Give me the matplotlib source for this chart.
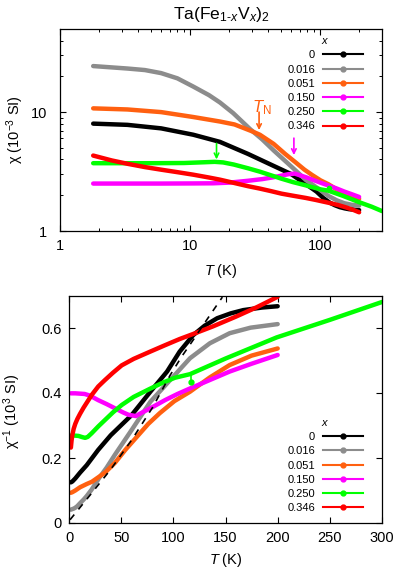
import numpy as np
import matplotlib
matplotlib.use("Agg")
import matplotlib.pyplot as plt
from matplotlib.lines import Line2D
from matplotlib import ticker

plt.rcParams['font.family'] = ['Liberation Sans', 'DejaVu Sans']
plt.rcParams['mathtext.fontset'] = 'custom'
plt.rcParams['mathtext.rm'] = 'Liberation Sans'
plt.rcParams['mathtext.it'] = 'Liberation Sans:italic'
plt.rcParams['font.size'] = 10.5

# inverse susceptibility (10^3 SI) vs temperature (K); chi = 1/inv (10^-3 SI)
labels = ["0", "0.016", "0.051", "0.150", "0.250", "0.346"]
colors = ["#000000", "#8c8c8c", "#ff6010", "#ff00ff", "#00ff00", "#ff0000"]

T_0 = [1.8, 3.3, 6, 10.6, 17, 28, 40, 60, 78, 94, 106, 119, 130, 142, 155, 167, 185, 200]
inv_0 = [0.125, 0.128, 0.137, 0.155, 0.178, 0.225, 0.27, 0.332, 0.404, 0.466, 0.527,
         0.578, 0.607, 0.63, 0.645, 0.655, 0.663, 0.667]

T_016 = [1.8, 3.3, 4.5, 6, 8, 10.6, 14, 17, 21.5, 29, 36, 44, 60, 78, 97, 116, 135, 154, 174, 200]
inv_016 = [0.041, 0.043, 0.0443, 0.047, 0.052, 0.061, 0.072, 0.083, 0.102, 0.139, 0.17, 0.21,
           0.286, 0.373, 0.44, 0.507, 0.553, 0.584, 0.601, 0.612]

T_051 = [1.8, 3.3, 6, 10.6, 17, 22, 30, 34.5, 44, 54, 65, 76, 87, 101, 116, 135, 154, 175, 200]
inv_051 = [0.093, 0.095, 0.1, 0.11, 0.12, 0.127, 0.145, 0.155, 0.185, 0.225, 0.265,
           0.305, 0.338, 0.375, 0.404, 0.448, 0.486, 0.515, 0.537]

T_150 = [1.8, 6, 10.6, 15, 20, 28, 36, 44, 52, 57, 64, 70, 78, 92, 104, 116, 135, 154, 175, 200]
inv_150 = [0.399, 0.399, 0.398, 0.397, 0.392, 0.378, 0.366, 0.353, 0.34, 0.333, 0.329,
           0.34, 0.353, 0.378, 0.397, 0.414, 0.44, 0.466, 0.49, 0.517]

T_250 = [1.8, 5, 9, 13, 15.5, 18, 21.7, 28, 34.5, 42, 50.5, 62, 77.6, 90, 101.6, 116,
         150, 199, 250, 300]
inv_250 = [0.269, 0.269, 0.268, 0.264, 0.262, 0.265, 0.276, 0.297, 0.317, 0.34, 0.363,
           0.388, 0.413, 0.432, 0.447, 0.458, 0.506, 0.571, 0.625, 0.68]
# single outlying point of the x = 0.250 run
T_spike = [116.8, 116.8]
inv_spike = [0.458, 0.433]

T_346 = [1.8, 2.5, 3.3, 4.5, 6, 8, 10.6, 14, 17, 22, 28, 34.5, 42, 50.5, 62, 77.6, 92,
         106, 121, 138, 160, 180, 200]
inv_346 = [0.232, 0.255, 0.272, 0.29, 0.305, 0.32, 0.336, 0.355, 0.37, 0.395, 0.42, 0.44,
           0.462, 0.485, 0.505, 0.527, 0.547, 0.566, 0.584, 0.605, 0.635, 0.664, 0.696]

# dashed guide on the inverse plot
T_fit = [1, 20, 40, 60, 80, 97, 108, 119, 132, 147]
inv_fit = [0.01, 0.085, 0.165, 0.255, 0.355, 0.455, 0.512, 0.563, 0.625, 0.695]

# transition arrows on the chi plot: (T, chi start, chi tip, colour)
arrow_T = [34, 63, 16]
arrow_from = [10.0, 6.04, 5.46]
arrow_to = [7.06, 4.35, 4.0]
arrow_col = [colors[2], colors[3], colors[4]]

temps = [T_0, T_016, T_051, T_150, T_250, T_346]
invs = [inv_0, inv_016, inv_051, inv_150, inv_250, inv_346]

fig = plt.figure(figsize=(3.95, 5.69), dpi=100)
ax1 = fig.add_axes([60/395, 1-231/569, 322/395, 202/569])
ax2 = fig.add_axes([69/395, 1-523/569, 313/395, 227.5/569])

for i, (T, inv, c) in enumerate(zip(temps, invs, colors)):
    T = np.array(T)
    inv = np.array(inv)
    ax1.plot(T, 1.0/inv, color=c, lw=3.2, solid_capstyle='round', solid_joinstyle='round')
    ax2.plot(T, inv, color=c, lw=3.2, solid_capstyle='round', solid_joinstyle='round')
    if labels[i] == "0.250":
        sp = np.array(inv_spike)
        ax1.plot(T_spike, 1.0/sp, color=c, lw=1.2)
        ax1.plot(T_spike[-1], 1.0/sp[-1], 'o', color=c, ms=3)
        ax2.plot(T_spike, sp, color=c, lw=1.2)
        ax2.plot(T_spike[-1], sp[-1], 'o', color=c, ms=3.5)

ax2.plot(T_fit, inv_fit, color='black', lw=1.2, ls=(0, (4, 4)))

for t, a, b, c in zip(arrow_T, arrow_from, arrow_to, arrow_col):
    ax1.annotate('', xy=(t, b), xytext=(t, a),
                 arrowprops=dict(arrowstyle='->', color=c, lw=1.2,
                                 shrinkA=0, shrinkB=0, mutation_scale=8))
ax1.text(35.8, 11.0, r'$T_\mathregular{N}$', color=colors[2], fontsize=12,
         ha='center', va='center')

# top panel: chi, log-log
ax1.set_xscale('log')
ax1.set_yscale('log')
ax1.set_xlim(1, 300)
ax1.set_ylim(1, 50)
fmt = ticker.FuncFormatter(lambda v, p: "%g" % v)
ax1.xaxis.set_major_formatter(fmt)
ax1.yaxis.set_major_formatter(fmt)
ax1.xaxis.set_minor_formatter(ticker.NullFormatter())
ax1.yaxis.set_minor_formatter(ticker.NullFormatter())
ax1.set_title(r'Ta(Fe$_{\mathit{1}\text{-}\mathit{x}}$V$_{\mathit{x}}$)$_2$', pad=7)
ax1.set_xlabel('$T$ (K)')
ax1.set_ylabel('χ (10$^{-3}$ SI)')
ax1.xaxis.set_label_coords(0.5, -0.152)
ax1.yaxis.set_label_coords(-0.105, 0.5)
ax1.tick_params(axis='y', which='major', pad=9)

# bottom panel: 1/chi, linear
ax2.set_xlim(0, 300)
ax2.set_ylim(0, 0.7)
ax2.set_xticks([0, 50, 100, 150, 200, 250, 300])
ax2.set_yticks([0, 0.2, 0.4, 0.6])
ax2.yaxis.set_major_formatter(fmt)
ax2.set_xlabel('$T$ (K)')
ax2.set_ylabel('χ$^{-1}$ (10$^{3}$ SI)')
ax2.xaxis.set_label_coords(0.5, -0.122)
ax2.yaxis.set_label_coords(-0.148, 0.49)
ax2.tick_params(axis='y', which='major', pad=5)

for ax in (ax1, ax2):
    ax.tick_params(which='both', direction='in', top=True, right=True)
    ax.tick_params(which='major', length=4.5, width=0.8)
    ax.tick_params(which='minor', length=2.5, width=0.7)
    ax.tick_params(axis='x', which='major', pad=6)
    for s in ax.spines.values():
        s.set_linewidth(0.9)

handles = [Line2D([], [], color=c, lw=1.5, marker='o', ms=3.5) for c in colors]
leg1 = ax1.legend(handles, labels, title='$x$', loc='upper right',
                  bbox_to_anchor=(0.941, 0.965), frameon=False, markerfirst=False,
                  numpoints=1, fontsize=8, title_fontsize=8, handlelength=3.6,
                  handletextpad=0.7, labelspacing=0.38, borderpad=0, borderaxespad=0)
leg2 = ax2.legend(handles, labels, title='$x$', loc='upper right',
                  bbox_to_anchor=(0.939, 0.462), frameon=False, markerfirst=False,
                  numpoints=1, fontsize=8, title_fontsize=8, handlelength=3.6,
                  handletextpad=0.7, labelspacing=0.38, borderpad=0, borderaxespad=0)

fig.savefig('out.png', dpi=100)
